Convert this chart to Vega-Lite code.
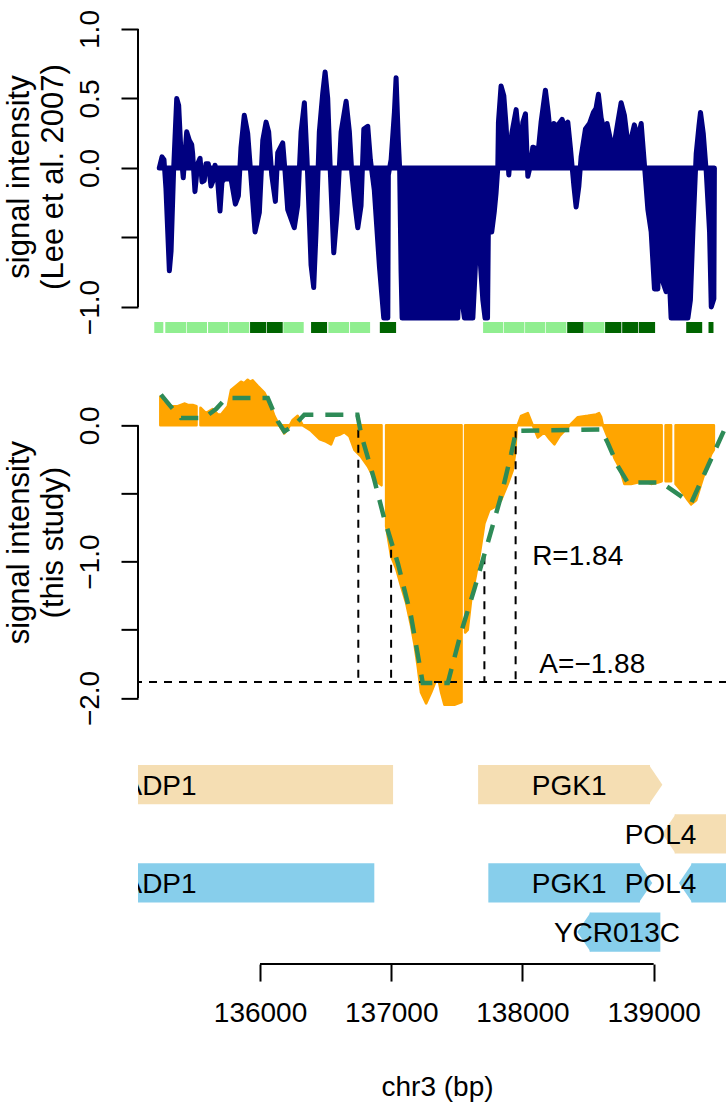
{
  "$schema": "https://vega.github.io/schema/vega-lite/v6.json",
  "background": "white",
  "padding": {"left": 3, "top": 9, "right": 0, "bottom": 4},
  "spacing": 54.35,
  "bounds": "flush",
  "resolve": {"scale": {"color": "independent", "shape": "independent"}},
  "config": {
    "font": "Liberation Sans",
    "view": {"stroke": null},
    "axis": {"grid": false, "labelColor": "black", "titleColor": "black", "tickColor": "black", "domainColor": "black", "titleFontWeight": "normal", "labelFontSize": 28, "titleFontSize": 28, "tickWidth": 2, "tickSize": 17, "labelFlush": false, "labelOverlap": false}
  },
  "datasets": {
    "lee": [
      {"p":135232,"v":0},{"p":135253,"v":0.08},{"p":135268,"v":0.06},{"p":135283,"v":-0.15},{"p":135309,"v":-0.74},{"p":135322,"v":-0.6},{"p":135342,"v":0},{"p":135365,"v":0.5},{"p":135380,"v":0.45},{"p":135398,"v":0.1},{"p":135415,"v":-0.07},{"p":135428,"v":0.1},{"p":135441,"v":0.26},{"p":135461,"v":0.2},{"p":135479,"v":0.17},{"p":135487,"v":0.1},{"p":135504,"v":-0.17},{"p":135525,"v":0.03},{"p":135543,"v":0.07},{"p":135558,"v":-0.1},{"p":135575,"v":-0.09},{"p":135588,"v":0.03},{"p":135606,"v":0.03},{"p":135626,"v":-0.13},{"p":135647,"v":-0.08},{"p":135657,"v":0.02},{"p":135672,"v":-0.03},{"p":135695,"v":-0.31},{"p":135710,"v":-0.1},{"p":135728,"v":-0.08},{"p":135779,"v":-0.08},{"p":135812,"v":-0.26},{"p":135835,"v":-0.2},{"p":135855,"v":0.15},{"p":135880,"v":0.38},{"p":135906,"v":0.25},{"p":135926,"v":0},{"p":135962,"v":-0.46},{"p":135995,"v":-0.32},{"p":136021,"v":0.2},{"p":136046,"v":0.33},{"p":136066,"v":0.26},{"p":136089,"v":-0.05},{"p":136117,"v":-0.24},{"p":136135,"v":0.11},{"p":136173,"v":0.18},{"p":136191,"v":-0.03},{"p":136211,"v":-0.3},{"p":136261,"v":-0.43},{"p":136287,"v":-0.27},{"p":136313,"v":0.26},{"p":136338,"v":0.47},{"p":136358,"v":0.07},{"p":136389,"v":-0.7},{"p":136409,"v":-0.86},{"p":136427,"v":-0.46},{"p":136452,"v":0.26},{"p":136478,"v":0.54},{"p":136496,"v":0.69},{"p":136516,"v":0.5},{"p":136536,"v":-0.03},{"p":136562,"v":-0.61},{"p":136587,"v":-0.32},{"p":136618,"v":0.26},{"p":136656,"v":0.48},{"p":136681,"v":0.26},{"p":136699,"v":-0.03},{"p":136724,"v":-0.27},{"p":136745,"v":-0.43},{"p":136770,"v":-0.27},{"p":136791,"v":0.28},{"p":136821,"v":0.3},{"p":136841,"v":0.06},{"p":136871,"v":-0.16},{"p":136910,"v":-0.71},{"p":136943,"v":-1.08},{"p":136974,"v":-1.08},{"p":136978,"v":-0.05},{"p":136999,"v":0.06},{"p":137024,"v":0.4},{"p":137037,"v":0.65},{"p":137054,"v":0.2},{"p":137064,"v":0},{"p":137075,"v":-0.75},{"p":137083,"v":-1.08},{"p":137507,"v":-1.08},{"p":137519,"v":-0.76},{"p":137532,"v":-0.9},{"p":137558,"v":-1.08},{"p":137622,"v":-1.08},{"p":137647,"v":-0.6},{"p":137672,"v":-0.58},{"p":137698,"v":-0.95},{"p":137715,"v":-1.08},{"p":137734,"v":-1.08},{"p":137740,"v":-0.46},{"p":137766,"v":-0.46},{"p":137786,"v":-0.31},{"p":137799,"v":-0.18},{"p":137812,"v":0},{"p":137817,"v":0.33},{"p":137837,"v":0.59},{"p":137858,"v":0.52},{"p":137875,"v":0.31},{"p":137896,"v":-0.05},{"p":137919,"v":0.25},{"p":137952,"v":0.42},{"p":137969,"v":0.25},{"p":137984,"v":0.09},{"p":138003,"v":0.33},{"p":138023,"v":0.39},{"p":138041,"v":-0.06},{"p":138061,"v":0.02},{"p":138079,"v":0.15},{"p":138104,"v":0.14},{"p":138117,"v":0.09},{"p":138142,"v":0.33},{"p":138175,"v":0.56},{"p":138196,"v":0.4},{"p":138218,"v":0.19},{"p":138239,"v":0.32},{"p":138264,"v":0.3},{"p":138302,"v":0.35},{"p":138320,"v":0.3},{"p":138346,"v":0.33},{"p":138366,"v":0.14},{"p":138392,"v":-0.13},{"p":138409,"v":-0.28},{"p":138430,"v":-0.13},{"p":138447,"v":0.08},{"p":138480,"v":0.28},{"p":138511,"v":0.32},{"p":138541,"v":0.4},{"p":138561,"v":0.43},{"p":138579,"v":0.53},{"p":138600,"v":0.36},{"p":138620,"v":0.28},{"p":138645,"v":0.32},{"p":138676,"v":0.18},{"p":138701,"v":0.18},{"p":138727,"v":0.33},{"p":138752,"v":0.47},{"p":138777,"v":0.38},{"p":138803,"v":0.18},{"p":138828,"v":0.21},{"p":138853,"v":0.31},{"p":138879,"v":0.21},{"p":138905,"v":0.32},{"p":138930,"v":0.02},{"p":138956,"v":-0.3},{"p":138981,"v":-0.46},{"p":139006,"v":-0.87},{"p":139032,"v":-0.87},{"p":139044,"v":-0.32},{"p":139070,"v":-0.82},{"p":139095,"v":-0.89},{"p":139115,"v":-0.7},{"p":139133,"v":-1.08},{"p":139261,"v":-1.08},{"p":139280,"v":-0.95},{"p":139299,"v":-0.46},{"p":139324,"v":0.1},{"p":139345,"v":0.3},{"p":139357,"v":0.4},{"p":139378,"v":0.25},{"p":139401,"v":-0.03},{"p":139426,"v":-0.46},{"p":139439,"v":-1.0},{"p":139459,"v":-0.94},{"p":139463,"v":0}
    ],
    "calls": [
      {"start":135194,"end":135263,"state":"low"},{"start":135278,"end":135436,"state":"low"},{"start":135441,"end":135596,"state":"low"},{"start":135604,"end":135758,"state":"low"},{"start":135764,"end":135918,"state":"low"},{"start":135924,"end":136046,"state":"high"},{"start":136051,"end":136173,"state":"high"},{"start":136178,"end":136333,"state":"low"},{"start":136389,"end":136511,"state":"high"},{"start":136521,"end":136679,"state":"low"},{"start":136686,"end":136839,"state":"low"},{"start":136913,"end":137037,"state":"high"},{"start":137700,"end":137853,"state":"low"},{"start":137858,"end":138015,"state":"low"},{"start":138020,"end":138173,"state":"low"},{"start":138178,"end":138335,"state":"low"},{"start":138341,"end":138465,"state":"high"},{"start":138470,"end":138625,"state":"low"},{"start":138630,"end":138754,"state":"high"},{"start":138760,"end":138882,"state":"high"},{"start":138887,"end":139011,"state":"high"},{"start":139248,"end":139370,"state":"high"},{"start":139418,"end":139456,"state":"high"}
    ],
    "study": [
      {"p":135240,"v":0.21},{"p":135260,"v":0.17},{"p":135296,"v":0.14},{"p":135373,"v":0.14},{"p":135398,"v":0.15},{"p":135423,"v":0.16},{"p":135451,"v":0.15},{"p":135487,"v":0.15},{"p":135516,"v":0.14},{"p":135530,"v":null},
      {"p":135546,"v":0.13},{"p":135588,"v":0.09},{"p":135639,"v":0.12},{"p":135678,"v":0.08},{"p":135703,"v":0.08},{"p":135754,"v":0.14},{"p":135779,"v":0.26},{"p":135830,"v":0.3},{"p":135855,"v":0.32},{"p":135878,"v":0.31},{"p":135906,"v":0.335},{"p":135924,"v":0.32},{"p":135944,"v":0.33},{"p":135982,"v":0.29},{"p":136033,"v":0.24},{"p":136084,"v":0.14},{"p":136109,"v":0.07},{"p":136147,"v":0},{"p":136185,"v":-0.06},{"p":136211,"v":-0.03},{"p":136249,"v":0.04},{"p":136287,"v":0.07},{"p":136326,"v":0},{"p":136389,"v":-0.04},{"p":136452,"v":-0.1},{"p":136503,"v":-0.12},{"p":136541,"v":-0.14},{"p":136566,"v":-0.08},{"p":136605,"v":-0.07},{"p":136643,"v":-0.05},{"p":136681,"v":-0.08},{"p":136719,"v":-0.18},{"p":136770,"v":-0.23},{"p":136821,"v":-0.3},{"p":136859,"v":-0.37},{"p":136897,"v":-0.42},{"p":136926,"v":-0.44},{"p":136945,"v":null},
      {"p":136961,"v":-0.74},{"p":136999,"v":-0.96},{"p":137037,"v":-1.05},{"p":137075,"v":-1.18},{"p":137113,"v":-1.3},{"p":137151,"v":-1.47},{"p":137176,"v":-1.6},{"p":137202,"v":-1.77},{"p":137227,"v":-1.96},{"p":137266,"v":-2.04},{"p":137304,"v":-1.96},{"p":137329,"v":-1.9},{"p":137355,"v":-1.84},{"p":137380,"v":-1.96},{"p":137405,"v":-2.05},{"p":137441,"v":-2.05},{"p":137481,"v":-2.05},{"p":137536,"v":-2.03},{"p":137551,"v":null},
      {"p":137563,"v":-1.52},{"p":137583,"v":-1.5},{"p":137609,"v":-1.28},{"p":137647,"v":-1.09},{"p":137672,"v":-0.96},{"p":137710,"v":-0.72},{"p":137748,"v":-0.62},{"p":137786,"v":-0.6},{"p":137837,"v":-0.55},{"p":137888,"v":-0.43},{"p":137926,"v":-0.33},{"p":137946,"v":-0.19},{"p":137955,"v":-0.02},{"p":137990,"v":0.07},{"p":138041,"v":0.09},{"p":138079,"v":0},{"p":138117,"v":-0.09},{"p":138167,"v":-0.05},{"p":138206,"v":-0.1},{"p":138244,"v":-0.14},{"p":138282,"v":-0.08},{"p":138320,"v":-0.04},{"p":138371,"v":0.01},{"p":138422,"v":0.06},{"p":138498,"v":0.07},{"p":138562,"v":0.08},{"p":138584,"v":0.09},{"p":138600,"v":0.06},{"p":138613,"v":0},{"p":138651,"v":-0.09},{"p":138701,"v":-0.24},{"p":138740,"v":-0.31},{"p":138777,"v":-0.43},{"p":138828,"v":-0.43},{"p":138879,"v":-0.42},{"p":138930,"v":-0.41},{"p":138981,"v":-0.43},{"p":139032,"v":-0.42},{"p":139061,"v":-0.41},{"p":139076,"v":null},
      {"p":139091,"v":-0.41},{"p":139133,"v":-0.41},{"p":139152,"v":null},
      {"p":139167,"v":-0.43},{"p":139210,"v":-0.48},{"p":139261,"v":-0.55},{"p":139286,"v":-0.58},{"p":139324,"v":-0.55},{"p":139362,"v":-0.43},{"p":139401,"v":-0.31},{"p":139439,"v":-0.21},{"p":139459,"v":-0.18}
    ],
    "fit": [
      {"p":135245,"v":0.225},{"p":135309,"v":0.15},{"p":135398,"v":0.054},{"p":135573,"v":0.054},{"p":135665,"v":0.12},{"p":135741,"v":0.2},{"p":136059,"v":0.2},{"p":136135,"v":0.03},{"p":136185,"v":-0.045},{"p":136261,"v":0},{"p":136338,"v":0.078},{"p":136742,"v":0.078},{"p":136772,"v":-0.07},{"p":136871,"v":-0.4},{"p":136948,"v":-0.69},{"p":137050,"v":-1.01},{"p":137151,"v":-1.4},{"p":137240,"v":-1.89},{"p":137431,"v":-1.89},{"p":137532,"v":-1.52},{"p":137634,"v":-1.2},{"p":137736,"v":-0.86},{"p":137837,"v":-0.52},{"p":137914,"v":-0.21},{"p":137952,"v":-0.04},{"p":138600,"v":-0.03},{"p":138651,"v":-0.13},{"p":138727,"v":-0.3},{"p":138803,"v":-0.42},{"p":139056,"v":-0.42},{"p":139286,"v":-0.57},{"p":139413,"v":-0.3},{"p":139540,"v":-0.03},{"p":139559,"v":0}
    ],
    "cuts": [
      {"p":136749,"v":0.078},{"p":136999,"v":-0.912},{"p":137710,"v":-0.961},{"p":137948,"v":-0.044}
    ],
    "notes": [
      {"p":138074,"v":-1.022,"label":"R=1.84"},
      {"p":138129,"v":-1.817,"label":"A=\u22121.88"}
    ],
    "genes": [
      {"track":"r1","set":"a","name":"ADP1","from":133000,"to":137014},
      {"track":"r1","set":"a","name":"PGK1","from":137662,"to":138972},
      {"track":"r2","set":"a","name":"POL4","from":139160,"to":141500},
      {"track":"r3","set":"b","name":"ADP1","from":133000,"to":136871},
      {"track":"r3","set":"b","name":"PGK1","from":137740,"to":138895},
      {"track":"r3","set":"b","name":"POL4","from":139287,"to":141500},
      {"track":"r4","set":"b","name":"YCR013C","from":138512,"to":139051}
    ],
    "tips": [
      {"track":"r1","set":"a","p":138972,"strand":"+"},
      {"track":"r2","set":"a","p":139160,"strand":"-"},
      {"track":"r3","set":"b","p":138895,"strand":"+"},
      {"track":"r3","set":"b","p":139287,"strand":"-"},
      {"track":"r4","set":"b","p":138512,"strand":"-"}
    ],
    "labels": [
      {"track":"r1","name":"ADP1","p":135238},
      {"track":"r1","name":"PGK1","p":138356},
      {"track":"r2","name":"POL4","p":139052},
      {"track":"r3","name":"ADP1","p":135238},
      {"track":"r3","name":"PGK1","p":138356},
      {"track":"r3","name":"POL4","p":139052},
      {"track":"r4","name":"YCR013C","p":138720}
    ]
  },
  "vconcat": [
    {
      "width": 589,
      "height": 341.35,
      "layer": [
        {
          "data": {"name": "lee"},
          "mark": {"type": "area", "color": "#000080", "stroke": "#000080", "strokeWidth": 5, "strokeJoin": "round"},
          "encoding": {
            "x": {"field": "p", "type": "quantitative", "scale": {"domain": [135070, 139559], "nice": false, "zero": false}, "axis": null},
            "y": {"field": "v", "type": "quantitative", "scale": {"domain": [-1.4558, 1], "nice": false, "zero": false},
              "axis": {"values": [-1, -0.5, 0, 0.5, 1], "domain": false, "labelAngle": 270, "labelAlign": "center", "labelBaseline": "alphabetic", "labelPadding": 23,
                "labelExpr": "datum.value == -0.5 ? '' : replace(format(datum.value, '.1f'), '-', '\u2212')",
                "title": ["signal intensity", "(Lee et al. 2007)"], "titleFontSize": 31, "titleAngle": 270, "titleAlign": "center", "titleBaseline": "alphabetic", "titleX": -109.2, "titleY": 147.5, "titleLineHeight": 34}}
          }
        },
        {
          "data": {"name": "calls"},
          "mark": {"type": "rect"},
          "encoding": {
            "x": {"field": "start", "type": "quantitative"},
            "x2": {"field": "end"},
            "y": {"datum": -1.108},
            "y2": {"datum": -1.187},
            "color": {"field": "state", "type": "nominal", "scale": {"domain": ["low", "high"], "range": ["#90EE90", "#006400"]}, "legend": null}
          }
        },
        {
          "data": {"values": [{}]},
          "mark": {"type": "rule", "color": "black", "strokeWidth": 2},
          "encoding": {"x": {"datum": 135070}, "y": {"datum": 1}, "y2": {"datum": -1}}
        }
      ]
    },
    {
      "width": 589,
      "height": 272.6,
      "layer": [
        {
          "data": {"name": "study"},
          "mark": {"type": "area", "color": "#FFA500", "stroke": "#FFA500", "strokeWidth": 2.5, "strokeJoin": "round", "invalid": "break-paths-filter-domains"},
          "encoding": {
            "x": {"field": "p", "type": "quantitative", "scale": {"domain": [135070, 139559], "nice": false, "zero": false}, "axis": null},
            "y": {"field": "v", "type": "quantitative", "scale": {"domain": [-2, 0], "nice": false, "zero": false},
              "axis": {"values": [0, -0.5, -1, -1.5, -2], "domain": false, "labelAngle": 270, "labelAlign": "center", "labelBaseline": "alphabetic", "labelPadding": 23,
                "labelExpr": "datum.value == -0.5 || datum.value == -1.5 ? '' : replace(format(datum.value, '.1f'), '-', '\u2212')",
                "title": ["signal intensity", "(this study)"], "titleFontSize": 31, "titleAngle": 270, "titleAlign": "center", "titleBaseline": "alphabetic", "titleX": -109.2, "titleY": 116.8, "titleLineHeight": 34}}
          }
        },
        {
          "data": {"values": [{}]},
          "mark": {"type": "rule", "color": "black", "strokeWidth": 2, "strokeDash": [8, 7]},
          "encoding": {"y": {"datum": -1.883}}
        },
        {
          "data": {"name": "cuts"},
          "mark": {"type": "rule", "color": "black", "strokeWidth": 2, "strokeDash": [8, 7]},
          "encoding": {"x": {"field": "p", "type": "quantitative"}, "y": {"field": "v", "type": "quantitative"}, "y2": {"datum": -1.883}}
        },
        {
          "data": {"name": "fit"},
          "mark": {"type": "line", "color": "#2E8B57", "strokeWidth": 4.5, "strokeDash": [18, 12]},
          "encoding": {"x": {"field": "p", "type": "quantitative"}, "y": {"field": "v", "type": "quantitative"}}
        },
        {
          "data": {"values": [{}]},
          "mark": {"type": "rule", "color": "black", "strokeWidth": 2},
          "encoding": {"x": {"datum": 135070}, "y": {"datum": 0}, "y2": {"datum": -2}}
        },
        {
          "data": {"name": "notes"},
          "mark": {"type": "text", "fontSize": 28, "align": "left", "baseline": "alphabetic", "color": "black"},
          "encoding": {"x": {"field": "p", "type": "quantitative"}, "y": {"field": "v", "type": "quantitative"}, "text": {"field": "label"}}
        }
      ]
    },
    {
      "width": 589,
      "height": 211.35,
      "layer": [
        {
          "data": {"name": "genes"},
          "mark": {"type": "rect", "clip": true},
          "encoding": {
            "x": {"field": "from", "type": "quantitative", "scale": {"domain": [135070, 139559], "nice": false, "zero": false},
              "axis": {"values": [136000, 137000, 138000, 139000], "format": "d", "domain": false, "labelBaseline": "alphabetic", "labelPadding": 40,
                "title": "chr3 (bp)", "titleX": 299, "titleY": 131, "titleBaseline": "alphabetic", "titleAlign": "center"}},
            "x2": {"field": "to"},
            "y": {"field": "track", "type": "nominal", "scale": {"domain": ["r1", "r2", "r3", "r4"], "paddingInner": 0.2, "paddingOuter": 0.25}, "axis": null},
            "color": {"field": "set", "type": "nominal", "scale": {"domain": ["a", "b"], "range": ["#F5DEB3", "#87CEEB"]}, "legend": null}
          }
        },
        {
          "data": {"name": "tips"},
          "mark": {"type": "point", "filled": true, "opacity": 1, "size": 1544, "strokeWidth": 0},
          "encoding": {
            "x": {"field": "p", "type": "quantitative"},
            "y": {"field": "track", "type": "nominal"},
            "color": {"field": "set", "type": "nominal", "legend": null},
            "shape": {"field": "strand", "type": "nominal", "scale": {"domain": ["+", "-"], "range": ["M-0.05,-1L0.631,0L-0.05,1Z", "M0.05,-1L-0.631,0L0.05,1Z"]}, "legend": null}
          }
        },
        {
          "data": {"name": "labels"},
          "mark": {"type": "text", "fontSize": 28, "clip": true, "dy": 2, "color": "black"},
          "encoding": {
            "x": {"field": "p", "type": "quantitative"},
            "y": {"field": "track", "type": "nominal"},
            "text": {"field": "name"}
          }
        },
        {
          "data": {"values": [{}]},
          "mark": {"type": "rule", "color": "black", "strokeWidth": 2},
          "encoding": {"x": {"datum": 136000}, "x2": {"datum": 139000}, "y": {"value": "height"}}
        }
      ]
    }
  ]
}
